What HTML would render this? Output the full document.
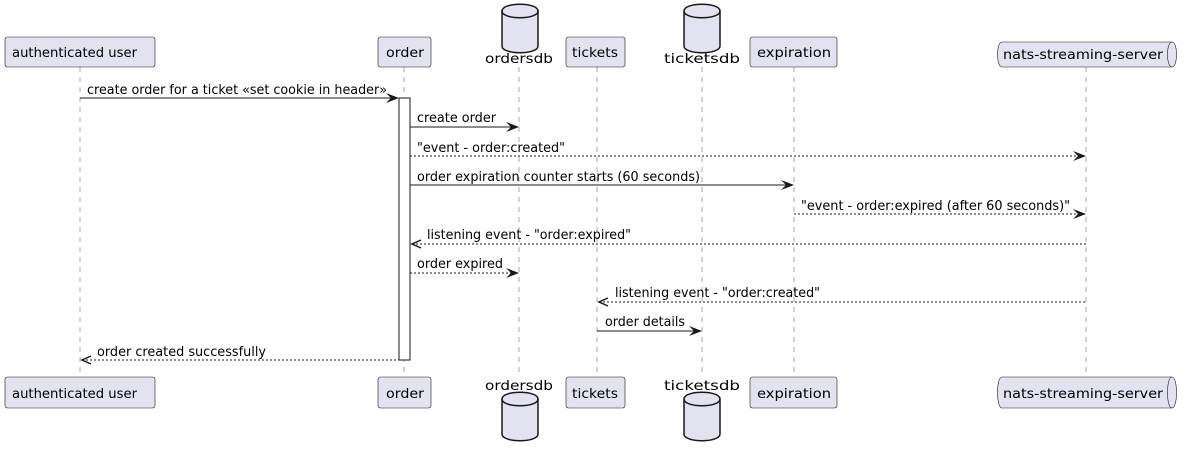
<!DOCTYPE html>
<html><head><meta charset="utf-8"><style>
html,body{margin:0;padding:0;background:#fff;}
svg{display:block;}
text{font-family:"DejaVu Sans","Liberation Sans",sans-serif;font-size:13px;fill:#000;}
</style></head><body>
<svg width="1183" height="455" viewBox="0 0 1183 455" xmlns="http://www.w3.org/2000/svg">
<defs>
<g id="cyl">
<path d="M-18,-17 C-18,-26 18,-26 18,-17 L18,18 C18,27 -18,27 -18,18 Z" fill="#E2E2F0" stroke="#181818" stroke-width="1.5"/>
<path d="M-18,-17 C-18,-8 18,-8 18,-17" fill="none" stroke="#181818" stroke-width="1.5"/>
</g>
</defs>
<g stroke="#555" stroke-width="0.5" stroke-dasharray="5,5">
<line x1="80" y1="67" x2="80" y2="377"/>
<line x1="404" y1="67" x2="404" y2="377"/>
<line x1="519" y1="67" x2="519" y2="377"/>
<line x1="597" y1="67" x2="597" y2="377"/>
<line x1="702" y1="67" x2="702" y2="377"/>
<line x1="794" y1="67" x2="794" y2="377"/>
<line x1="1086" y1="67" x2="1086" y2="377"/>
</g>
<rect x="399" y="98" width="11" height="262" fill="#fff" stroke="#181818" stroke-width="1"/>

<g fill="#E2E2F0" stroke="#181818" stroke-width="0.6">
<rect x="5" y="37" width="150" height="30" rx="2.5"/>
<rect x="378" y="37" width="53" height="30" rx="2.5"/>
<rect x="566" y="37" width="59" height="30" rx="2.5"/>
<rect x="750" y="37" width="87" height="30" rx="2.5"/>
<rect x="5" y="377" width="150" height="31" rx="2.5"/>
<rect x="378" y="377" width="53" height="31" rx="2.5"/>
<rect x="566" y="377" width="59" height="31" rx="2.5"/>
<rect x="750" y="377" width="87" height="31" rx="2.5"/>
</g>
<g fill="#E2E2F0" stroke="#181818" stroke-width="0.6">
<path d="M1002,42 L1172,42 C1178,42 1178,67 1172,67 L1002,67 C996,67 996,42 1002,42 Z"/>
<path d="M1172,42 C1166,42 1166,67 1172,67" fill="none"/>
<path d="M1002,377 L1172,377 C1178,377 1178,408 1172,408 L1002,408 C996,408 996,377 1002,377 Z"/>
<path d="M1172,377 C1166,377 1166,408 1172,408" fill="none"/>
</g>
<use href="#cyl" x="520" y="28"/>
<use href="#cyl" x="702" y="28"/>
<use href="#cyl" x="520" y="416"/>
<use href="#cyl" x="702" y="416"/>

<text x="12" y="57" textLength="125" lengthAdjust="spacingAndGlyphs">authenticated user</text>
<text x="386" y="57" textLength="38" lengthAdjust="spacingAndGlyphs">order</text>
<text x="485" y="63" font-size="14" textLength="68" lengthAdjust="spacingAndGlyphs">ordersdb</text>
<text x="572" y="57" textLength="46" lengthAdjust="spacingAndGlyphs">tickets</text>
<text x="664" y="63" font-size="14" textLength="76" lengthAdjust="spacingAndGlyphs">ticketsdb</text>
<text x="757" y="57" textLength="74" lengthAdjust="spacingAndGlyphs">expiration</text>
<text x="1003" y="59" textLength="160" lengthAdjust="spacingAndGlyphs">nats-streaming-server</text>

<text x="12" y="398" textLength="125" lengthAdjust="spacingAndGlyphs">authenticated user</text>
<text x="386" y="398" textLength="38" lengthAdjust="spacingAndGlyphs">order</text>
<text x="485" y="390" font-size="14" textLength="68" lengthAdjust="spacingAndGlyphs">ordersdb</text>
<text x="572" y="398" textLength="46" lengthAdjust="spacingAndGlyphs">tickets</text>
<text x="664" y="390" font-size="14" textLength="76" lengthAdjust="spacingAndGlyphs">ticketsdb</text>
<text x="757" y="398" textLength="74" lengthAdjust="spacingAndGlyphs">expiration</text>
<text x="1003" y="398" textLength="160" lengthAdjust="spacingAndGlyphs">nats-streaming-server</text>

<g stroke="#181818" stroke-width="1" fill="none">
<line x1="80" y1="98" x2="397" y2="98"/>
<line x1="410" y1="127" x2="517" y2="127"/>
<line x1="410" y1="156" x2="1084" y2="156" stroke-dasharray="2,2"/>
<line x1="410" y1="185" x2="792" y2="185"/>
<line x1="794" y1="214" x2="1084" y2="214" stroke-dasharray="2,2"/>
<line x1="412" y1="244" x2="1086" y2="244" stroke-dasharray="2,2"/>
<line x1="410" y1="273" x2="517" y2="273" stroke-dasharray="2,2"/>
<line x1="599" y1="302" x2="1086" y2="302" stroke-dasharray="2,2"/>
<line x1="597" y1="331" x2="700" y2="331"/>
<line x1="82" y1="360" x2="399" y2="360" stroke-dasharray="2,2"/>
<polyline points="421,240 412,244 421,248" stroke-width="1.5"/>
<polyline points="608,298 599,302 608,306" stroke-width="1.5"/>
<polyline points="91,356 82,360 91,364" stroke-width="1.5"/>
</g>
<g fill="#181818">
<polygon points="399,98 386,93 391,98 386,103"/>
<polygon points="519,127 506,122 511,127 506,132"/>
<polygon points="1086,156 1073,151 1078,156 1073,161"/>
<polygon points="794,185 781,180 786,185 781,190"/>
<polygon points="1086,214 1073,209 1078,214 1073,219"/>
<polygon points="519,273 506,268 511,273 506,278"/>
<polygon points="702,331 689,326 694,331 689,336"/>
</g>

<text x="87" y="94" textLength="300" lengthAdjust="spacingAndGlyphs">create order for a ticket «set cookie in header»</text>
<text x="417" y="122" textLength="79" lengthAdjust="spacingAndGlyphs">create order</text>
<text x="417" y="152" textLength="148" lengthAdjust="spacingAndGlyphs">"event - order:created"</text>
<text x="417" y="181" textLength="283" lengthAdjust="spacingAndGlyphs">order expiration counter starts (60 seconds)</text>
<text x="801" y="210" textLength="269" lengthAdjust="spacingAndGlyphs">"event - order:expired (after 60 seconds)"</text>
<text x="427" y="239" textLength="204" lengthAdjust="spacingAndGlyphs">listening event - "order:expired"</text>
<text x="417" y="268" textLength="86" lengthAdjust="spacingAndGlyphs">order expired</text>
<text x="615" y="297" textLength="205" lengthAdjust="spacingAndGlyphs">listening event - "order:created"</text>
<text x="605" y="326" textLength="80" lengthAdjust="spacingAndGlyphs">order details</text>
<text x="97" y="356" textLength="169" lengthAdjust="spacingAndGlyphs">order created successfully</text>
</svg>
</body></html>
